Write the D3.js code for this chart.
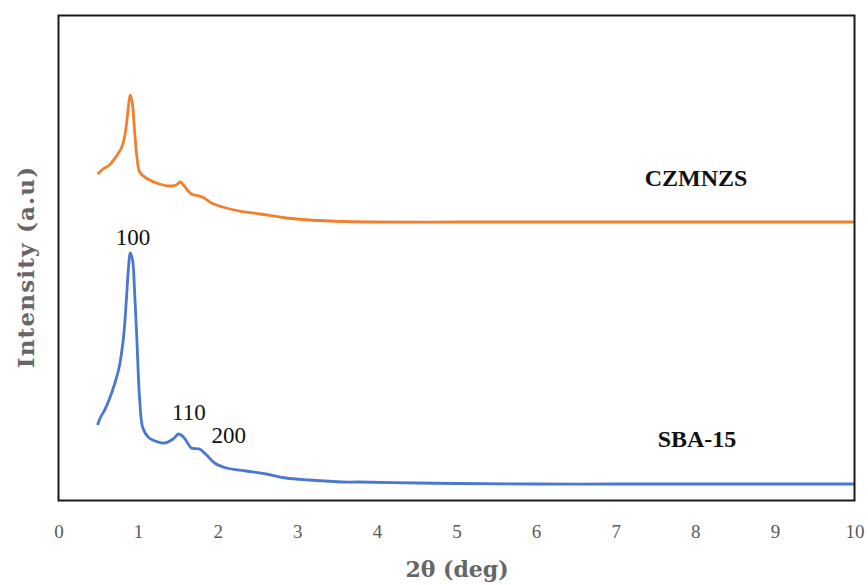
<!DOCTYPE html>
<html>
<head>
<meta charset="utf-8">
<script src="https://cdn.jsdelivr.net/npm/d3@7"></script>
<style>
  html, body { margin: 0; padding: 0; background: #fff; }
  svg { display: block; }
</style>
</head>
<body>
<svg id="chart" width="868" height="585"></svg>
<script>
// ---- data (2θ in degrees, intensity in arbitrary units) ----
const xTicks = [0, 1, 2, 3, 4, 5, 6, 7, 8, 9, 10];

const sbaX = [0.49, 0.53, 0.58, 0.63, 0.68, 0.72, 0.76, 0.79, 0.82, 0.85, 0.88, 0.90, 0.93, 0.955, 0.985, 1.02, 1.06, 1.14, 1.25, 1.33, 1.44, 1.51, 1.58, 1.67, 1.77, 1.86, 1.96, 2.11, 2.36, 2.61, 2.86, 3.15, 3.57, 3.78, 4.5, 5, 6, 7, 8, 9, 10];
const sbaY = [76, 84, 91, 100, 111, 121, 133, 147, 166, 198, 234, 248, 241, 211, 161, 101, 73, 63, 59, 58, 62, 67, 63, 53, 52, 46, 38, 33, 30, 27, 23, 21, 19, 19, 18, 17.5, 17, 17, 17, 17, 17];

const czX = [0.49, 0.56, 0.64, 0.72, 0.79, 0.83, 0.87, 0.90, 0.925, 0.955, 0.985, 1.02, 1.10, 1.27, 1.39, 1.48, 1.53, 1.58, 1.67, 1.77, 1.83, 1.92, 2.06, 2.27, 2.53, 2.86, 3.15, 3.6, 4, 5, 6, 7, 8, 9, 10];
const czY = [327, 332, 336, 344, 353, 364, 388, 406, 399, 371, 344, 329, 323, 317, 315, 316, 319, 315, 307, 305, 303, 298, 294, 290, 287, 283, 281, 279.5, 279, 279, 279, 279, 279, 279, 279];

const seriesNames = ["CZMNZS", "SBA-15"];
const seriesColors = ["#F08030", "#4A78D0"];
const peakLabels = ["100", "110", "200"];
const peakX = [0.95, 1.65, 2.15];
const peakY = [256, 81, 58];

// ---- layout ----
const svg = d3.select("#chart");
const L = 58.5, R = 854.5, T = 15.5, B = 500.5;

const x = d3.scaleLinear().domain([0, 10]).range([L, R]);
const y = d3.scaleLinear().domain([0, 486]).range([B + 0.5, T - 0.5]);

const line = d3.line()
  .x(d => x(d[0]))
  .y(d => y(d[1]))
  .curve(d3.curveCatmullRom.alpha(0.5));

const sbaData = sbaX.map((v, i) => [v, sbaY[i]]);
const czData = czX.map((v, i) => [v, czY[i]]);

svg.append("path")
  .datum(czData)
  .attr("d", line)
  .attr("fill", "none")
  .attr("stroke", seriesColors[0])
  .attr("stroke-width", 2.8)
  .attr("stroke-linejoin", "round");

svg.append("path")
  .datum(sbaData)
  .attr("d", line)
  .attr("fill", "none")
  .attr("stroke", seriesColors[1])
  .attr("stroke-width", 2.8)
  .attr("stroke-linejoin", "round");

// plot frame
svg.append("rect")
  .attr("x", L).attr("y", T)
  .attr("width", R - L).attr("height", B - T)
  .attr("fill", "none")
  .attr("stroke", "#1a1a1a")
  .attr("stroke-width", 2);

// x axis ticks
const xAxis = d3.axisBottom(x)
  .tickValues(xTicks)
  .tickSize(0)
  .tickPadding(0)
  .tickFormat(d3.format("d"));

const gx = svg.append("g")
  .attr("transform", `translate(0, ${B + 24})`)
  .call(xAxis);
gx.select(".domain").remove();
gx.selectAll("text")
  .attr("dy", "0.71em")
  .attr("fill", "#595959")
  .style("font-family", "'Liberation Serif', 'DejaVu Serif', serif")
  .style("font-size", "19px");

// axis titles
svg.append("text")
  .attr("x", 457)
  .attr("y", 577)
  .attr("text-anchor", "middle")
  .attr("fill", "#666")
  .style("font-family", "'DejaVu Serif', serif")
  .style("font-size", "22px")
  .style("font-weight", "bold")
  .text("2θ (deg)");

svg.append("text")
  .attr("transform", "translate(34, 267) rotate(-90)")
  .attr("text-anchor", "middle")
  .attr("fill", "#666")
  .style("font-family", "'DejaVu Serif', serif")
  .style("font-size", "23px")
  .style("font-weight", "bold")
  .style("letter-spacing", "1.2px")
  .text("Intensity (a.u)");

// series labels
const seriesLabelX = [696, 697];
const seriesLabelY = [315, 54];
seriesNames.forEach((n, i) => {
  svg.append("text")
    .attr("x", x((seriesLabelX[i] - L) / 79.6))
    .attr("y", y(seriesLabelY[i]))
    .attr("text-anchor", "middle")
    .attr("fill", "#111")
    .style("font-family", "'Liberation Serif', 'DejaVu Serif', serif")
    .style("font-size", "24px")
    .style("font-weight", "bold")
    .text(n);
});

// peak labels
peakLabels.forEach((t, i) => {
  svg.append("text")
    .attr("x", x(peakX[i]) - 1)
    .attr("y", y(peakY[i]))
    .attr("text-anchor", "middle")
    .attr("fill", "#111")
    .style("font-family", "'Liberation Serif', 'DejaVu Serif', serif")
    .style("font-size", "23px")
    .text(t);
});
</script>
</body>
</html>
